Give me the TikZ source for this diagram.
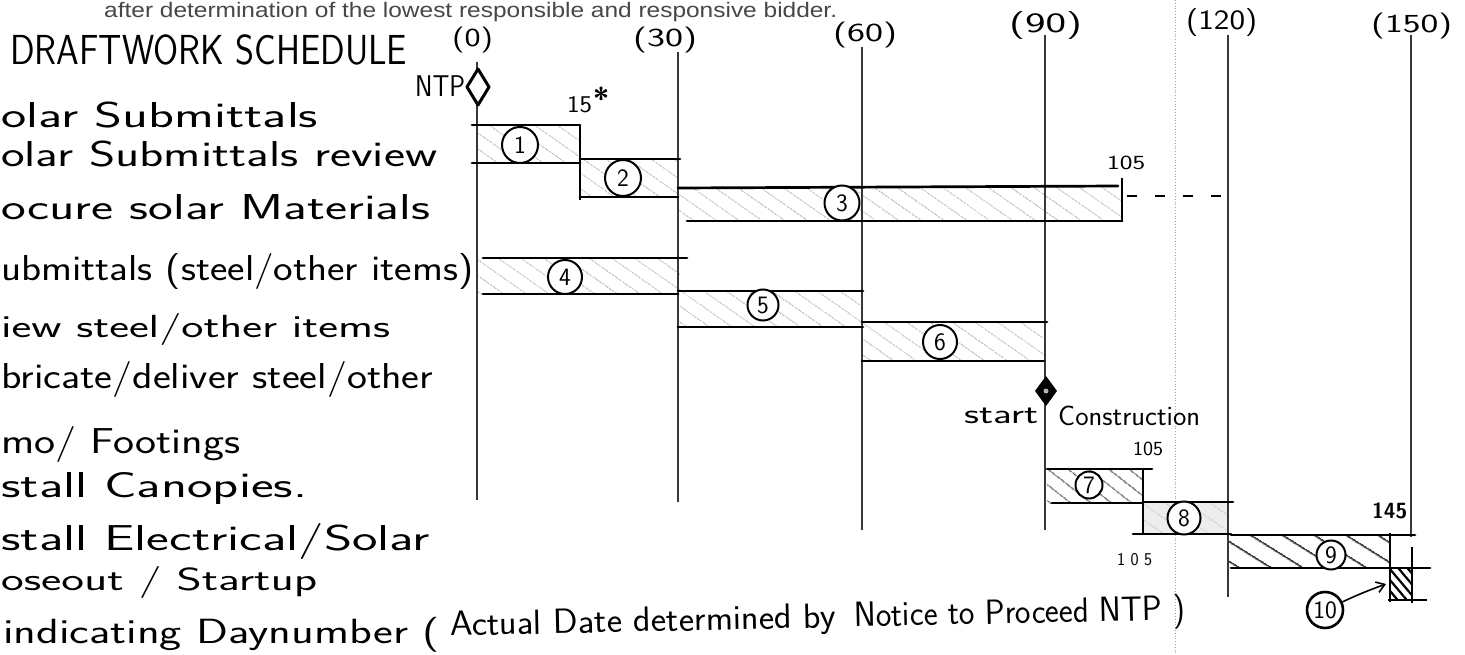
\documentclass[tikz,border=0pt]{standalone}
\usepackage{fontspec}
\usepackage{graphicx}
\newfontfamily\hdrfont{Liberation Sans}
\usetikzlibrary{patterns.meta,arrows.meta}
\newcommand\fitw[2]{\resizebox{#1}{\height}{#2}}
\tikzset{
  hw/.style={inner sep=0pt, anchor=base west, font=\sffamily\fontsize{#1}{#1}\selectfont},
  hw/.default=36,
  hdr/.style={inner sep=0pt, anchor=base west, text=black!72, font=\hdrfont\fontsize{21}{21}\selectfont},
  gridline/.style={line width=1.6pt, draw=black!78},
  barline/.style={line width=2.7pt, line cap=round},
  sideline/.style={line width=2.5pt},
  lighthatch/.style={pattern={Lines[angle=-35,distance=13pt,line width=0.8pt]}, pattern color=black!28},
  midhatch/.style={pattern={Lines[angle=-38,distance=13pt,line width=1.4pt]}, pattern color=black!55},
  heavyhatch/.style={pattern={Lines[angle=-32,distance=17pt,line width=2pt]}, pattern color=black!75},
  densehatch/.style={pattern={Lines[angle=-50,distance=7pt,line width=2.2pt]}, pattern color=black},
  cnum/.style={circle, draw, fill=white, line width=2pt, inner sep=0pt, minimum size=#1,
    font=\sffamily\fontsize{25}{25}\selectfont},
  faint/.style={draw=black!35, line width=0.8pt, dotted},
  dashconn/.style={line width=1.4pt, dash pattern=on 10pt off 18pt},
}
\begin{document}
\begin{tikzpicture}[x=1pt,y=-1pt]
\fill[white] (0,0) rectangle (1465,655);
\useasboundingbox (0,0) rectangle (1465,655);

% faint dotted guide
\draw[faint] (1175,0) -- (1175,655);

% hatching of bars
\fill[lighthatch] (477,125) rectangle (580,163);
\fill[lighthatch] (580,160) rectangle (678,197);
\fill[lighthatch] (678,188) rectangle (1122,221);
\fill[lighthatch] (477,258) rectangle (680,294);
\fill[lighthatch] (678,292) rectangle (862,327);
\fill[lighthatch] (862,322) rectangle (1045,361);
\fill[midhatch] (1047,469) rectangle (1143,503);
\fill[black!7] (1143,502) rectangle (1229,534);
\fill[lighthatch] (1143,502) rectangle (1229,534);
\fill[heavyhatch] (1229,535) rectangle (1390,568);
\fill[densehatch] (1390,568) rectangle (1412,600);

% vertical day lines
\draw[gridline] (477,62) -- (477,500);
\draw[gridline] (678,52) -- (678,502);
\draw[gridline] (862,47) -- (862,530);
\draw[gridline] (1045,35) -- (1045,530);
\draw[gridline] (1228,35) -- (1228,597);
\draw[gridline] (1411,35) -- (1411,537);

% bar outlines
\draw[barline] (472,125) -- (580,125);
\draw[barline] (472,163) -- (580,163);
\draw[sideline] (580,125) -- (580,200);
\draw[barline] (580,159) -- (680,159);
\draw[barline] (580,197) -- (678,197);
\draw[barline] (678,188) -- (1118,186);
\draw[barline] (687,221) -- (1122,221);
\draw[sideline] (1122,178) -- (1122,222);
\draw[barline] (483,258) -- (687,258);
\draw[barline] (483,294) -- (678,294);
\draw[barline] (678,291) -- (863,291);
\draw[barline] (678,327) -- (863,327);
\draw[barline] (862,322) -- (1047,322);
\draw[barline] (862,361) -- (1044,361);
\draw[barline] (1047,469) -- (1152,469);
\draw[barline] (1052,503) -- (1143,503);
\draw[sideline] (1143,468) -- (1143,534);
\draw[barline] (1143,502) -- (1233,502);
\draw[barline] (1133,534) -- (1231,534);
\draw[barline] (1231,535) -- (1415,535);
\draw[barline] (1231,568) -- (1430,568);
\draw[sideline] (1390,533) -- (1390,602);
\draw[sideline] (1412,547) -- (1412,603);
\draw[line width=1.8pt] (1388,600) -- (1427,600);

% milestones
\draw[line width=3pt, line join=round, fill=white] (478,69) -- (489,87) -- (478,105) -- (467,87) -- cycle;
\fill (1046,376) -- (1057,391) -- (1046,406) -- (1035,391) -- cycle;
\fill[black!30] (1046,391) circle (2.5pt);

% dashed continuation
\coordinate (d1) at (1127,196);
\coordinate (d2) at (1229,196);
\draw[dashconn] (d1) -- (d2);

% circled numbers
\node[cnum=36pt] (c1) at (520,145) {1};
\node[cnum=36pt] (c2) at (623,178) {2};
\node[cnum=35pt] (c3) at (842,203) {3};
\node[cnum=34pt] (c4) at (565,277) {4};
\node[cnum=31pt] (c5) at (763,305) {5};
\node[cnum=34pt] (c6) at (940,342) {6};
\node[cnum=27pt] (c7) at (1089,485) {7};
\node[cnum=33pt] (c8) at (1184,518) {8};
\node[cnum=29pt] (c9) at (1331,555) {9};
\node[cnum=36pt, line width=2.6pt] (c10) at (1325,610) {10};
\coordinate (b10tip) at (1386,584);
\draw[line width=1.6pt, -{Straight Barb[length=8pt,width=11pt]}] (c10) to[out=25,in=200] (b10tip);

% header
\node[hdr] (hdr) at (104,18) {\fitw{733pt}{after determination of the lowest responsible and responsive bidder.}};

% title and day numbers
\node[hw=42] (title) at (10,65) {\fitw{397pt}{DRAFTWORK SCHEDULE}};
\node[hw=26] (t0) at (452,47) {\fitw{41pt}{(0)}};
\node[hw=26] (t30) at (633,47) {\fitw{64pt}{(30)}};
\node[hw=26] (t60) at (833,42) {\fitw{64pt}{(60)}};
\node[hw=28] (t90) at (1009,33) {\fitw{73pt}{(90)}};
\node[hw=28] (t120) at (1186,30) {\fitw{71pt}{(120)}};
\node[hw=26] (t150) at (1371,33) {\fitw{81pt}{(150)}};

\node[hw=30] (ntp) at (415,97) {\fitw{50pt}{NTP}};
\node[hw=24] (n15) at (567,113) {\fitw{25pt}{15}};
\node[inner sep=0pt, anchor=base, font=\sffamily\bfseries\fontsize{30}{30}\selectfont] (star) at (601,110) {*};
\node[hw=20] (n105a) at (1107,170) {\fitw{38pt}{105}};
\node[hw=20] (n105b) at (1133,455) {\fitw{30pt}{105}};
\node[hw=18] (n105c) at (1117,565) {\fitw{35pt}{1 0 5}};
\node[hw=22, font=\sffamily\bfseries\fontsize{22}{22}\selectfont] (n145) at (1372,518) {\fitw{35pt}{145}};
\node[hw=28] (start) at (964,423) {\fitw{74pt}{start}};
\node[hw=28] (constr) at (1058,425) {\fitw{142pt}{Construction}};

% row labels
\node[hw] (r1) at (1,128) {\fitw{317pt}{olar Submittals}};
\node[hw] (r2) at (1,167) {\fitw{436pt}{olar Submittals review}};
\node[hw] (r3) at (1,220) {\fitw{429pt}{ocure solar Materials}};
\node[hw] (r4) at (1,280) {\fitw{472pt}{ubmittals (steel/other items)}};
\node[hw=32] (r5) at (1,337) {\fitw{389pt}{iew steel/other items}};
\node[hw] (r6) at (1,388) {\fitw{432pt}{bricate/deliver steel/other}};
\node[hw] (r7) at (1,453) {\fitw{239pt}{mo/ Footings}};
\node[hw] (r8) at (1,497) {\fitw{306pt}{stall Canopies.}};
\node[hw] (r9) at (1,550) {\fitw{429pt}{stall Electrical/Solar}};
\node[hw=32] (r10) at (1,590) {\fitw{316pt}{oseout / Startup}};
\node[hw=35] (note1) at (3,643) {\fitw{437pt}{indicating Daynumber (}};
\node[hw=35, rotate=1.25] (note2) at (450,636) {\fitw{386pt}{Actual Date determined by}};
\node[hw=35, rotate=1.25] (note3) at (854,627) {\fitw{331pt}{Notice to Proceed NTP )}};
\end{tikzpicture}
\end{document}
